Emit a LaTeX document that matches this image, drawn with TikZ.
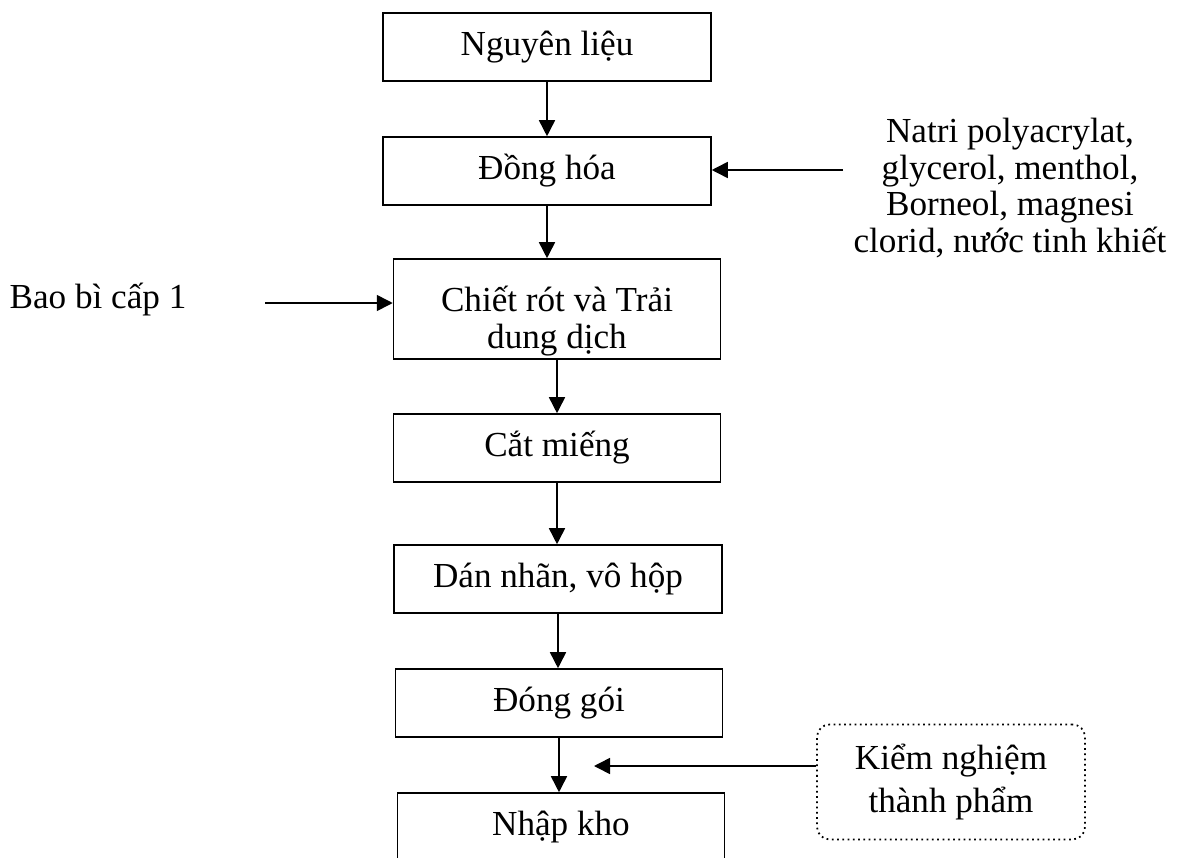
\documentclass[tikz,border=0pt]{standalone}
\usepackage{fontspec}
\setmainfont{Liberation Serif}
\usetikzlibrary{arrows.meta,positioning}
\newcommand{\flowfont}{\fontsize{20}{21}\selectfont}

\begin{document}
\begin{tikzpicture}[x=0.02cm, y=-0.02cm,
    stage/.style={rectangle, draw, line width=0.9pt, minimum width=6.56cm, minimum height=1.36cm, align=center, inner sep=0pt, font=\flowfont},
    tallstage/.style={stage, minimum height=2cm},
    check/.style={rectangle, draw, dotted, line width=1pt, rounded corners=0.25cm, minimum width=5.36cm, minimum height=2.3cm, align=center, inner sep=0pt, font=\fontsize{20}{24}\selectfont},
    input/.style={align=center, inner sep=0pt, font=\flowfont},
    flow/.style={-{Triangle[length=0.32cm, width=0.32cm]}, line width=0.9pt},
]
    \useasboundingbox (0,0) rectangle (1179,858);
    \clip (0,0) rectangle (1179,858);

    % Process stages
    \node[stage] (nguyenlieu) at (547, 47) {Nguyên liệu};
    \node[stage] (donghoa) at (547, 171) {Đồng hóa};
    \node[tallstage, minimum width=6.54cm,
          label={[input, yshift=-0.24cm]center:{Chiết rót và Trải\\dung dịch}}] (chietrot) at (557, 309) {};
    \node[stage, minimum width=6.54cm] (catmieng) at (557, 448) {Cắt miếng};
    \node[stage] (dannhan) at (558, 579) {Dán nhãn, vô hộp};
    \node[stage, minimum width=6.54cm] (donggoi) at (559, 703) {Đóng gói};
    \node[stage, minimum width=6.54cm] (nhapkho) at (561, 827) {Nhập kho};

    % Inputs from the sides
    \node[input] (baobi) at (98, 300) {Bao bì cấp 1};
    \node[input] (natri) at (1010, 188) {Natri polyacrylat,\\glycerol, menthol,\\Borneol, magnesi\\clorid, nước tinh khiết};
    \node[check] (kiemnghiem) at (951, 782) {Kiểm nghiệm\\thành phẩm};

    \coordinate (natriend) at (843, 170);
    \coordinate (baobiend) at (265, 303);
    \coordinate (kiemtip) at (594, 766);

    % Arrows
    \foreach \a/\b in {nguyenlieu/donghoa, donghoa/chietrot, chietrot/catmieng, catmieng/dannhan, dannhan/donggoi, donggoi/nhapkho} {
        \draw[flow] (\a.south) -- (\a.south |- \b.north);
    }
    \draw[flow] (natriend) -- (donghoa.east |- natriend);
    \draw[flow] (baobiend) -- (chietrot.west |- baobiend);
    \draw[flow] (kiemnghiem.west |- kiemtip) -- (kiemtip);
\end{tikzpicture}
\end{document}
